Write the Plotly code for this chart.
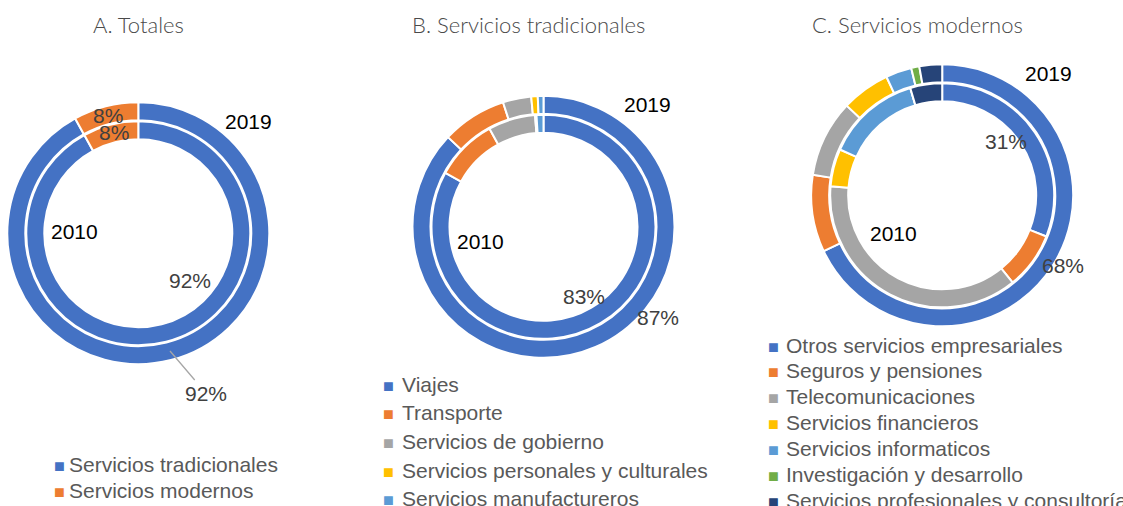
import plotly.graph_objects as go

# ---------------- data ----------------
titles = ["A. Totales", "B. Servicios tradicionales", "C. Servicios modernos"]
years = ["2019", "2010"]

totales_labels = ["Servicios tradicionales", "Servicios modernos"]
totales_2019 = [92, 8]
totales_2010 = [92, 8]

trad_labels = ["Viajes", "Transporte", "Servicios de gobierno",
               "Servicios personales y culturales", "Servicios manufactureros"]
trad_2019 = [87, 8, 3.5, 0.8, 0.7]
trad_2010 = [83, 9, 6.8, 0.2, 1.0]

mod_labels = ["Otros servicios empresariales", "Seguros y pensiones", "Telecomunicaciones",
              "Servicios financieros", "Servicios informaticos", "Investigación y desarrollo",
              "Servicios profesionales y consultoría"]
mod_2019 = [68, 9.5, 9.5, 6, 3.2, 1, 2.8]
mod_2010 = [31, 8.2, 37.1, 5.4, 13.7, 0, 4.6]

colors = ["#4472C4", "#ED7D31", "#A5A5A5", "#FFC000", "#5B9BD5", "#70AD47", "#264478"]

# ---------------- layout helpers ----------------
W, H = 1123, 506


def px(x):
    return x / W


def py(y):
    return 1 - y / H


def dom(cx, cy, r):
    return dict(x=[px(cx - r), px(cx + r)], y=[py(cy + r), py(cy - r)])


R_OUT, HOLE_OUT = 131, 113
R_IN, HOLE_IN = 112, 94

charts = [
    dict(labels=totales_labels, v19=totales_2019, v10=totales_2010, c=(138.3, 233.2)),
    dict(labels=trad_labels, v19=trad_2019, v10=trad_2010, c=(543.5, 226.8)),
    dict(labels=mod_labels, v19=mod_2019, v10=mod_2010, c=(942.2, 195.3)),
]

fig = go.Figure()
for ch in charts:
    cx, cy = ch["c"]
    n = len(ch["labels"])
    for vals, r, hole, yr in [(ch["v19"], R_OUT, HOLE_OUT, "2019"), (ch["v10"], R_IN, HOLE_IN, "2010")]:
        fig.add_trace(go.Pie(
            labels=ch["labels"], values=vals, name=yr,
            domain=dom(cx, cy, r), hole=hole / r,
            sort=False, direction="clockwise", rotation=0,
            marker=dict(colors=colors[:n], line=dict(color="white", width=2)),
            textinfo="none", hovertemplate="%{label}<br>" + yr + ": %{value}%<extra></extra>",
            showlegend=False,
        ))

ann = []
LBL_FONT = dict(family="Liberation Sans, Arial, sans-serif", size=21, color="#404040")
YR_FONT = dict(family="Liberation Sans, Arial, sans-serif", size=21, color="#000000")


def text_ann(text, x, y, font, **kw):
    d = dict(text=text, x=px(x), y=py(y), xref="paper", yref="paper",
             showarrow=False, xanchor="center", yanchor="middle", font=font)
    d.update(kw)
    return d


# titles
TITLE_FONT = dict(family="Lato, Open Sans, sans-serif", size=22, color="#4a4a4a", weight=300)
for t, x in zip(titles, [138, 528.8, 917]):
    ann.append(text_ann(t, x, 24.5, TITLE_FONT))

# year labels
year_pos = [((248.8, 121.7), (74.7, 231.7)), ((647.8, 104.5), (480.7, 241.7)), ((1048.8, 73.2), (893.8, 233.7))]
for (p19, p10) in year_pos:
    for yr, p in zip(years, (p19, p10)):
        ann.append(text_ann(yr, p[0], p[1], YR_FONT))


def pct(v):
    return f"{v:.0f}%"


# percentage labels
ann.append(text_ann(pct(totales_2019[1]), 108.3, 115, LBL_FONT))
ann.append(text_ann(pct(totales_2010[1]), 113.8, 132.5, LBL_FONT))
ann.append(text_ann(pct(totales_2010[0]), 189.7, 280.5, LBL_FONT))
ann.append(text_ann(pct(totales_2019[0]), 170, 351, LBL_FONT,
                    showarrow=True, arrowhead=0, arrowwidth=1.3, arrowcolor="#A6A6A6",
                    ax=35.8, ay=42, xanchor="auto", yanchor="auto"))
ann.append(text_ann(pct(trad_2010[0]), 583.7, 296.3, LBL_FONT))
ann.append(text_ann(pct(trad_2019[0]), 658, 317.2, LBL_FONT))
ann.append(text_ann(pct(mod_2010[0]), 1005.5, 141.7, LBL_FONT))
ann.append(text_ann(pct(mod_2019[0]), 1062.8, 265, LBL_FONT))

# legends (square swatch + text)
LEG_FONT = dict(family="Liberation Sans, Arial, sans-serif", size=21, color="#595959")
legends = [
    (totales_labels, 59, 67, 464, 26.5),
    (trad_labels, 389, 400, 384, 28.7),
    (mod_labels, 773, 784, 345, 25.9),
]
for labels, sqx, tx, y0, dy in legends:
    for i, lab in enumerate(labels):
        yy = y0 + i * dy
        ann.append(text_ann("■", sqx, yy + 1.5,
                            dict(family="Liberation Sans, Arial, sans-serif", size=18, color=colors[i])))
        ann.append(text_ann(lab, tx, yy, LEG_FONT, xanchor="left"))

fig.update_layout(
    width=W, height=H, margin=dict(l=0, r=0, t=0, b=0),
    paper_bgcolor="white", plot_bgcolor="white",
    annotations=ann, showlegend=False,
)

fig.write_html("out.html", config={"displayModeBar": False},
               post_script="document.body.style.margin='0px';")
